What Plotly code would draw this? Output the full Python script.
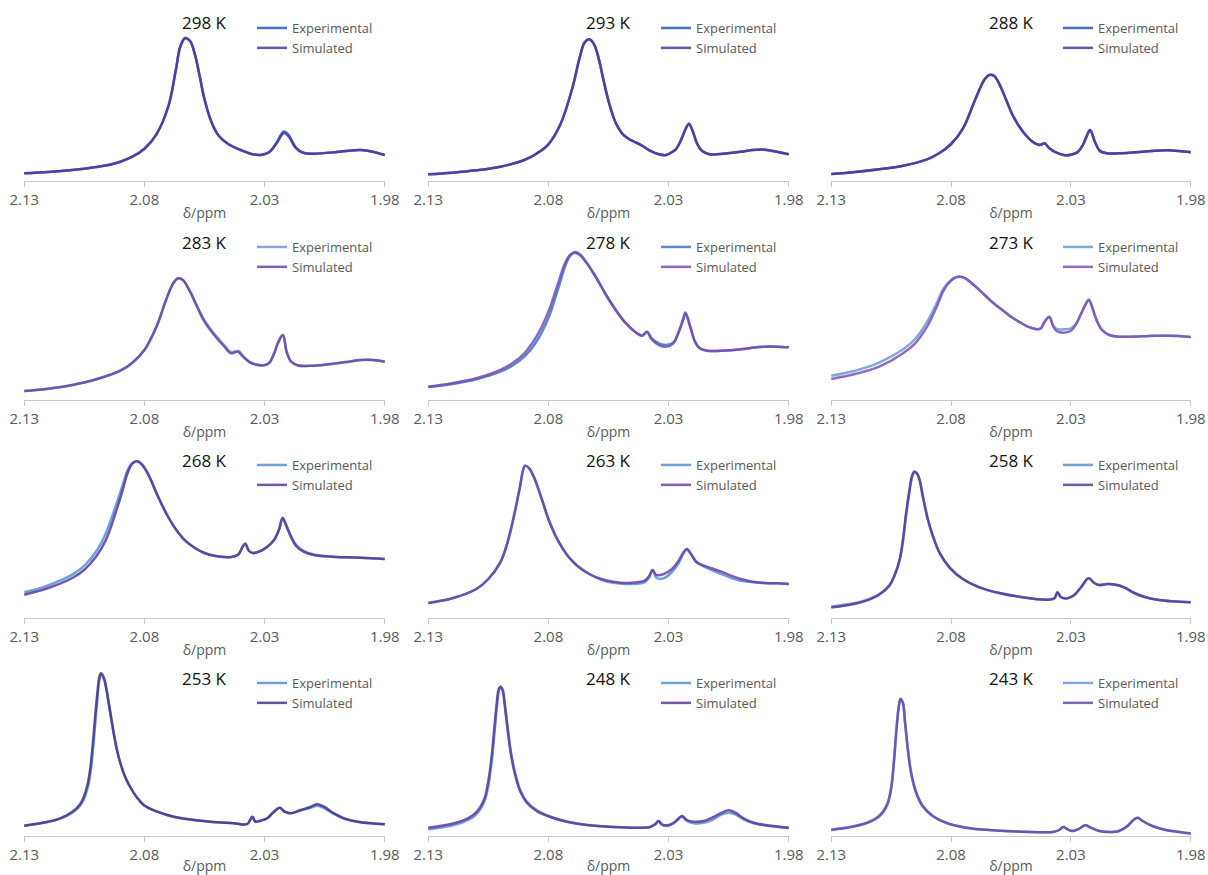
import plotly.graph_objects as go

# ---------------- data ----------------
temps = ["298 K", "293 K", "288 K", "283 K", "278 K", "273 K",
         "268 K", "263 K", "258 K", "253 K", "248 K", "243 K"]
tick_vals = [2.13, 2.08, 2.03, 1.98]
tick_text = ["2.13", "2.08", "2.03", "1.98"]

x_298 = [2.130, 2.120, 2.110, 2.100, 2.095, 2.090, 2.085, 2.080, 2.075, 2.070, 2.067, 2.065, 2.063, 2.061, 2.059,
         2.057, 2.055, 2.052, 2.049, 2.045, 2.040, 2.035, 2.031, 2.028, 2.025, 2.022, 2.020, 2.017, 2.014, 2.010,
         2.000, 1.995, 1.990, 1.985, 1.980]
exp_298 = [7.7, 9.0, 11.0, 14.0, 16.0, 19.3, 24.3, 32.3, 46.7, 75.0, 110.0, 135.0, 143.0, 140.0, 126.7,
           105.0, 81.7, 58.3, 45.0, 36.7, 31.0, 26.7, 26.3, 29.0, 38.5, 49.5, 46.0, 33.5, 28.3, 27.3,
           29.0, 30.3, 31.0, 29.3, 26.0]
sim_298 = [7.7, 9.0, 11.0, 14.0, 16.0, 19.3, 24.3, 32.3, 46.7, 75.0, 110.0, 135.0, 143.0, 140.0, 126.7,
           105.0, 81.7, 58.3, 45.0, 36.7, 31.0, 26.7, 26.3, 29.0, 37.7, 48.0, 44.5, 33.0, 28.3, 27.3,
           29.0, 30.3, 31.0, 29.3, 26.0]

x_293 = [2.130, 2.120, 2.110, 2.100, 2.090, 2.085, 2.080, 2.075, 2.070, 2.067, 2.065, 2.063, 2.061, 2.059, 2.057,
         2.055, 2.052, 2.049, 2.045, 2.042, 2.038, 2.034, 2.031, 2.029, 2.027, 2.025, 2.023, 2.0215, 2.020, 2.018,
         2.016, 2.013, 2.010, 2.000, 1.995, 1.990, 1.985, 1.980]
exp_293 = [6.7, 8.3, 10.7, 14.3, 21.0, 27.3, 36.7, 56.7, 93.3, 123.3, 138.3, 141.7, 136.7, 121.7, 100.0,
           80.0, 58.3, 46.7, 40.0, 36.7, 30.7, 26.7, 26.0, 28.3, 31.7, 40.0, 51.7, 57.3, 50.0, 36.7,
           30.0, 26.7, 26.7, 29.3, 31.0, 31.3, 29.3, 26.7]
sim_293 = [6.7, 8.3, 10.7, 14.3, 21.0, 27.3, 36.7, 56.7, 93.3, 123.3, 138.3, 141.7, 136.7, 121.7, 100.0,
           80.0, 58.3, 46.7, 40.0, 36.7, 30.7, 26.7, 26.0, 28.3, 31.7, 40.0, 51.7, 57.3, 50.0, 36.7,
           30.0, 26.7, 26.7, 29.3, 31.0, 31.3, 29.3, 26.7]

x_288 = [2.130, 2.120, 2.110, 2.100, 2.090, 2.085, 2.080, 2.075, 2.070, 2.066, 2.064, 2.062, 2.060, 2.057, 2.054,
         2.050, 2.046, 2.043, 2.041, 2.039, 2.036, 2.033, 2.030, 2.027, 2.025, 2.0235, 2.022, 2.020, 2.018, 2.015,
         2.010, 2.000, 1.995, 1.990, 1.985, 1.980]
exp_288 = [7.0, 9.0, 11.7, 15.3, 21.7, 27.7, 37.0, 52.7, 81.0, 101.7, 106.0, 105.0, 97.7, 81.0, 64.3,
           49.3, 39.3, 36.0, 37.7, 32.7, 28.3, 26.0, 26.3, 29.3, 36.0, 44.3, 51.0, 39.3, 30.3, 27.7,
           27.7, 29.3, 30.3, 30.7, 30.0, 28.7]
sim_288 = [7.0, 9.0, 11.7, 15.3, 21.7, 27.7, 37.0, 52.7, 81.0, 101.7, 106.0, 105.0, 97.7, 81.0, 64.3,
           49.3, 39.3, 36.0, 37.7, 32.7, 28.3, 26.0, 26.3, 29.3, 36.0, 44.3, 51.0, 39.3, 30.3, 27.7,
           27.7, 29.3, 30.3, 30.7, 30.0, 28.7]

x_283 = [2.130, 2.120, 2.110, 2.100, 2.090, 2.085, 2.080, 2.075, 2.071, 2.068, 2.066, 2.064, 2.061, 2.058, 2.055,
         2.051, 2.047, 2.044, 2.041, 2.039, 2.036, 2.033, 2.030, 2.028, 2.026, 2.0245, 2.0224, 2.0208, 2.019, 2.016,
         2.010, 2.000, 1.995, 1.990, 1.985, 1.980]
exp_283 = [9.0, 11.3, 15.0, 20.7, 29.3, 37.3, 50.0, 73.3, 100.0, 116.7, 121.7, 120.0, 108.3, 93.5, 79.5,
           66.5, 55.5, 48.0, 49.0, 44.0, 37.8, 35.5, 35.0, 37.3, 46.7, 56.7, 65.0, 48.0, 38.5, 34.5,
           34.3, 36.7, 38.3, 40.0, 40.0, 38.3]
sim_283 = [9.0, 11.3, 15.0, 20.7, 29.3, 37.3, 50.0, 73.3, 100.0, 116.7, 121.7, 120.0, 108.3, 92.7, 78.3,
           65.0, 54.0, 46.7, 48.3, 43.3, 37.3, 35.0, 34.7, 37.3, 46.7, 56.7, 65.0, 48.0, 38.5, 34.5,
           34.3, 36.7, 38.3, 40.0, 40.0, 38.3]

x_278 = [2.130, 2.120, 2.110, 2.100, 2.095, 2.090, 2.085, 2.080, 2.076, 2.073, 2.071, 2.069, 2.067, 2.064, 2.060,
         2.056, 2.052, 2.048, 2.044, 2.041, 2.039, 2.037, 2.034, 2.031, 2.028, 2.026, 2.024, 2.023, 2.021, 2.019,
         2.017, 2.014, 2.010, 2.000, 1.995, 1.990, 1.985, 1.980]
exp_278 = [13.0, 16.0, 20.7, 28.3, 34.3, 43.3, 58.3, 82.0, 111.0, 134.0, 144.0, 148.0, 146.0, 137.0, 122.0,
           105.0, 90.0, 77.3, 68.3, 64.5, 68.0, 61.5, 56.5, 55.0, 57.5, 66.7, 80.0, 87.5, 73.3, 58.3,
           51.7, 49.3, 49.0, 50.7, 52.3, 53.3, 53.3, 52.7]
sim_278 = [13.3, 16.7, 21.7, 30.0, 36.7, 46.7, 63.3, 88.3, 116.7, 137.3, 145.0, 147.3, 145.0, 136.7, 121.7,
           105.0, 90.0, 77.3, 68.3, 64.3, 68.3, 60.7, 55.0, 53.3, 56.7, 66.7, 80.0, 86.7, 73.3, 58.3,
           51.7, 49.3, 49.0, 50.7, 52.3, 53.3, 53.3, 52.7]

x_273 = [2.130, 2.120, 2.110, 2.100, 2.095, 2.090, 2.086, 2.083, 2.080, 2.078, 2.076, 2.074, 2.071, 2.067, 2.063,
         2.059, 2.055, 2.051, 2.048, 2.046, 2.044, 2.0425, 2.041, 2.039, 2.0375, 2.036, 2.033, 2.030, 2.028, 2.026,
         2.024, 2.0225, 2.021, 2.019, 2.017, 2.014, 2.010, 2.000, 1.995, 1.990, 1.985, 1.980]
exp_273 = [24.3, 29.3, 37.3, 50.7, 61.0, 78.0, 96.7, 111.7, 120.0, 123.0, 123.3, 121.7, 116.0, 107.3, 98.3,
           90.7, 83.3, 77.3, 73.3, 71.7, 70.7, 71.7, 78.3, 83.5, 75.0, 71.0, 70.7, 71.7, 76.0, 85.0,
           95.0, 100.5, 91.7, 78.3, 70.0, 65.0, 63.3, 63.7, 64.3, 64.3, 64.0, 63.0]
sim_273 = [21.0, 26.0, 33.3, 46.7, 56.7, 73.3, 93.3, 110.0, 119.3, 122.7, 123.3, 121.7, 116.0, 107.3, 98.3,
           90.7, 83.3, 77.3, 73.3, 71.7, 70.7, 71.7, 78.3, 82.7, 74.0, 69.0, 67.3, 69.3, 75.0, 85.0,
           95.0, 100.0, 91.7, 78.3, 70.0, 65.0, 63.3, 63.7, 64.3, 64.3, 64.0, 63.0]

x_268 = [2.130, 2.120, 2.110, 2.105, 2.100, 2.096, 2.092, 2.089, 2.087, 2.085, 2.083, 2.081, 2.078, 2.075, 2.071,
         2.067, 2.063, 2.059, 2.055, 2.051, 2.047, 2.044, 2.041, 2.039, 2.038, 2.0365, 2.035, 2.032, 2.029, 2.026,
         2.024, 2.0225, 2.021, 2.019, 2.017, 2.014, 2.010, 2.005, 2.000, 1.990, 1.980]
exp_268 = [25.7, 32.7, 43.3, 52.3, 66.7, 85.0, 111.7, 133.3, 147.7, 155.0, 156.7, 153.3, 141.7, 125.0, 105.0,
           89.0, 77.3, 70.0, 65.0, 62.3, 61.0, 61.0, 63.3, 71.7, 74.3, 67.0, 65.0, 66.7, 71.0, 78.3,
           88.3, 100.0, 93.0, 82.0, 73.5, 67.5, 63.8, 62.0, 61.0, 60.3, 59.0]
sim_268 = [23.3, 30.0, 40.0, 48.3, 61.7, 78.3, 105.0, 128.3, 145.0, 154.3, 156.7, 153.3, 141.7, 125.0, 105.0,
           89.0, 77.3, 70.0, 65.0, 62.3, 61.0, 61.0, 63.3, 71.7, 74.3, 67.0, 65.0, 66.7, 71.0, 78.3,
           88.3, 100.0, 92.3, 81.0, 72.3, 66.7, 63.3, 61.7, 61.0, 60.3, 59.0]

x_263 = [2.130, 2.120, 2.110, 2.105, 2.100, 2.097, 2.094, 2.092, 2.0897, 2.088, 2.086, 2.083, 2.080, 2.076, 2.072,
         2.068, 2.063, 2.058, 2.053, 2.048, 2.043, 2.040, 2.038, 2.0367, 2.035, 2.032, 2.0286, 2.0258, 2.0238, 2.0224,
         2.0207, 2.0185, 2.016, 2.012, 2.008, 2.004, 2.000, 1.995, 1.990, 1.985, 1.980]
exp_263 = [15.0, 19.7, 29.0, 39.0, 55.7, 75.7, 105.7, 129.0, 152.3, 149.7, 140.7, 120.7, 99.0, 77.3, 62.3,
           52.3, 44.0, 38.3, 35.3, 34.0, 34.3, 35.7, 40.7, 48.0, 40.0, 39.7, 46.0, 55.0, 64.5, 69.0,
           64.0, 56.0, 52.3, 48.0, 44.0, 40.0, 37.3, 35.7, 35.0, 34.7, 34.0]
sim_263 = [15.0, 19.7, 29.0, 39.0, 55.7, 75.7, 105.7, 129.0, 152.3, 149.7, 140.7, 120.7, 99.0, 77.3, 62.3,
           52.3, 44.0, 39.0, 36.3, 35.0, 35.7, 37.3, 42.3, 48.0, 43.0, 44.0, 49.0, 57.3, 65.7, 69.0,
           64.0, 56.3, 53.0, 49.7, 46.3, 42.3, 39.0, 36.3, 35.0, 34.7, 34.0]

x_258 = [2.130, 2.120, 2.115, 2.1099, 2.1057, 2.1036, 2.1015, 2.1001, 2.0988, 2.0974, 2.0963, 2.0953, 2.0942, 2.0932,
         2.0918, 2.0897, 2.0876, 2.0849, 2.0807, 2.0751, 2.0682, 2.0599, 2.0501, 2.0404, 2.0369, 2.0356, 2.0342,
         2.0314, 2.0286, 2.0258, 2.0226, 2.0203, 2.0182, 2.0147, 2.0113, 2.0078, 2.0036, 1.9988, 1.9932, 1.9876,
         1.980]
exp_258 = [11.3, 15.0, 18.3, 24.0, 33.0, 43.0, 58.0, 77.0, 102.3, 125.7, 140.7, 145.7, 144.0, 139.0,
           122.3, 99.0, 82.3, 65.7, 50.7, 39.0, 30.7, 25.0, 20.7, 18.3, 19.7, 25.7, 21.0,
           19.7, 23.0, 30.7, 39.7, 35.0, 33.0, 34.0, 33.3, 30.7, 25.0, 20.7, 18.0, 16.7,
           15.7]
sim_258 = [10.5, 14.3, 17.7, 23.5, 32.3, 42.3, 57.5, 77.5, 104.0, 127.5, 142.0, 146.5, 144.5, 138.5,
           121.5, 98.5, 82.0, 65.7, 50.7, 39.0, 30.7, 25.0, 20.7, 18.3, 19.7, 25.7, 21.0,
           19.7, 23.0, 30.7, 39.7, 35.0, 33.0, 34.0, 33.3, 30.7, 25.0, 20.7, 18.0, 16.7,
           15.7]

x_253 = [2.130, 2.120, 2.115, 2.110, 2.107, 2.1053, 2.1036, 2.1025, 2.1014, 2.1004, 2.0994, 2.0988, 2.0981, 2.0969,
         2.0958, 2.0949, 2.0937, 2.0928, 2.0914, 2.0900, 2.0879, 2.0858, 2.0831, 2.0803, 2.0747, 2.0678, 2.0567,
         2.0428, 2.0372, 2.0351, 2.0338, 2.0317, 2.0289, 2.0261, 2.0236, 2.0217, 2.0192, 2.015, 2.0108, 2.0081,
         2.0053, 2.0011, 1.9969, 1.9914, 1.9858, 1.980]
exp_253 = [10.3, 14.3, 17.3, 23.3, 29.5, 36.0, 48.0, 62.0, 86.0, 114.0, 141.0, 155.0, 161.0, 157.0,
           146.0, 133.0, 115.5, 102.5, 85.5, 72.5, 58.5, 48.5, 38.5, 31.0, 24.3, 19.3, 15.3,
           12.7, 12.0, 19.3, 14.3, 15.3, 17.7, 24.3, 28.3, 24.3, 22.7, 25.5, 28.3, 30.3,
           28.0, 22.0, 17.3, 14.3, 12.7, 11.7]
sim_253 = [10.3, 14.3, 17.7, 24.3, 31.0, 38.5, 52.0, 68.0, 94.0, 122.0, 147.0, 158.5, 162.7, 158.5,
           147.0, 134.0, 116.5, 103.5, 86.0, 73.0, 58.5, 48.5, 38.5, 31.0, 24.3, 19.3, 15.3,
           12.7, 12.0, 19.3, 14.3, 15.3, 17.7, 24.3, 28.3, 24.3, 22.7, 26.0, 29.3, 31.7,
           29.3, 22.7, 17.7, 14.3, 12.7, 11.7]

x_248 = [2.130, 2.121, 2.1154, 2.1113, 2.1085, 2.1064, 2.105, 2.1036, 2.1025, 2.1015, 2.1006, 2.0999, 2.099, 2.0981,
         2.0969, 2.0956, 2.0939, 2.0918, 2.089, 2.0849, 2.0793, 2.0724, 2.064, 2.0529, 2.0418, 2.0376, 2.0356,
         2.0342, 2.0328, 2.0307, 2.0279, 2.0258, 2.0244, 2.0224, 2.0196, 2.0154, 2.0113, 2.0078, 2.005, 2.0022,
         1.9988, 1.9946, 1.989, 1.980]
exp_248 = [6.7, 10.0, 14.0, 19.0, 26.0, 36.0, 50.0, 74.0, 101.0, 127.0, 145.0, 149.3, 146.5, 132.0,
           108.0, 84.0, 63.5, 46.5, 34.5, 26.0, 19.5, 14.5, 11.0, 9.0, 8.3, 9.0, 11.7,
           15.0, 11.2, 10.0, 12.5, 17.0, 19.5, 15.0, 12.7, 13.3, 16.7, 21.7, 23.3, 21.7,
           16.7, 12.7, 10.3, 8.0]
sim_248 = [8.3, 11.7, 15.7, 21.0, 28.3, 39.0, 55.0, 80.0, 108.0, 133.0, 147.5, 149.3, 145.0, 129.0,
           105.0, 81.7, 61.7, 45.0, 33.3, 25.0, 19.0, 14.3, 11.0, 9.0, 8.3, 9.0, 11.7,
           15.0, 11.7, 10.7, 13.3, 17.7, 20.0, 16.0, 14.3, 15.0, 19.0, 23.3, 25.7, 23.3,
           17.7, 13.3, 10.7, 8.3]

x_243 = [2.130, 2.121, 2.1154, 2.1113, 2.1085, 2.1064, 2.105, 2.1039, 2.1029, 2.1019, 2.1011, 2.1001, 2.0992, 2.0981,
         2.0967, 2.0946, 2.0918, 2.0876, 2.0821, 2.0738, 2.0626, 2.0501, 2.0376, 2.0349, 2.0332, 2.0314, 2.0293,
         2.0265, 2.024, 2.0217, 2.0182, 2.014, 2.0099, 2.0064, 2.0036, 2.0022, 2.0001, 1.996, 1.9904, 1.9849, 1.980]
exp_243 = [6.5, 9.8, 13.2, 18.0, 24.5, 34.0, 49.0, 74.0, 104.0, 128.0, 136.8, 132.5, 113.0, 87.0,
           63.0, 43.0, 29.3, 19.7, 13.0, 8.3, 5.7, 4.3, 4.0, 6.0, 9.0, 6.7, 5.0,
           7.3, 10.7, 8.3, 5.0, 4.0, 5.0, 10.0, 16.7, 18.3, 15.0, 10.0, 6.0, 4.0, 2.5]
sim_243 = [6.0, 9.3, 12.7, 17.3, 23.3, 32.5, 47.0, 72.0, 103.0, 128.0, 137.3, 133.3, 114.0, 88.5,
           64.0, 44.0, 30.0, 20.0, 13.3, 8.3, 5.7, 4.3, 4.0, 6.0, 9.0, 6.7, 5.0,
           7.3, 10.7, 8.3, 5.0, 4.0, 5.0, 10.0, 16.7, 18.3, 15.0, 10.0, 6.0, 4.0, 2.5]

panels = [
    (x_298, exp_298, sim_298), (x_293, exp_293, sim_293), (x_288, exp_288, sim_288),
    (x_283, exp_283, sim_283), (x_278, exp_278, sim_278), (x_273, exp_273, sim_273),
    (x_268, exp_268, sim_268), (x_263, exp_263, sim_263), (x_258, exp_258, sim_258),
    (x_253, exp_253, sim_253), (x_248, exp_248, sim_248), (x_243, exp_243, sim_243),
]

# ---------------- styling ----------------
exp_colors = ["#4472c4", "#4472c4", "#4472c4", "#7fa8dc", "#5b88d0", "#7fa8dc",
              "#6fa0dc", "#6fa0dc", "#6fa0dc", "#6fa0dc", "#6fa0dc", "#7fa8dc"]
sim_colors = ["#50389a", "#50389a", "#50389a", "#6e45aa", "#7a4cb2", "#7e52b5",
              "#58399a", "#6a42a8", "#58399a", "#4a338a", "#5e3a9c", "#6a48ac"]

W, H = 1208, 875
col_px = [(24, 385), (428, 789), (831, 1191)]
axis_px = [181, 400, 618, 836]
plot_h = 170
FONT = "Open Sans"

fig = go.Figure()
layout = {}
annotations = []

for i, (xs, ye, ys) in enumerate(panels):
    r, c = divmod(i, 3)
    sfx = "" if i == 0 else str(i + 1)
    lg = "legend" + sfx
    x0, x1 = col_px[c]
    ay = axis_px[r]
    fig.add_trace(go.Scatter(x=xs, y=ye, mode="lines", name="Experimental",
                             line=dict(color=exp_colors[i], width=2.5, shape="spline", smoothing=1.0),
                             xaxis="x" + sfx, yaxis="y" + sfx, legend=lg))
    fig.add_trace(go.Scatter(x=xs, y=ys, mode="lines", name="Simulated", opacity=0.85,
                             line=dict(color=sim_colors[i], width=2.5, shape="spline", smoothing=1.0),
                             xaxis="x" + sfx, yaxis="y" + sfx, legend=lg))
    layout["xaxis" + sfx] = dict(
        domain=[x0 / W, x1 / W], anchor="y" + sfx, automargin=False,
        range=[2.1301, 1.9799], tickmode="array", tickvals=tick_vals, ticktext=tick_text,
        showline=True, linecolor="#c8c8c8", linewidth=1,
        ticks="outside", ticklen=5, tickcolor="#c8c8c8", showgrid=False, zeroline=False,
        tickfont=dict(family=FONT, size=15, color="#595959"),
        title=dict(text="δ/ppm", standoff=0, font=dict(family=FONT, size=14, color="#595959")),
        fixedrange=True,
    )
    layout["yaxis" + sfx] = dict(
        domain=[1 - ay / H, 1 - (ay - plot_h) / H], anchor="x" + sfx, automargin=False,
        range=[0, plot_h], visible=False, showgrid=False, zeroline=False, fixedrange=True,
    )
    layout[lg] = dict(
        x=(x1 - 133) / W, y=1 - (ay - 168) / H, xanchor="left", yanchor="top",
        bgcolor="rgba(0,0,0,0)", borderwidth=0, itemwidth=30,
        font=dict(family=FONT, size=13, color="#595959"),
    )
    annotations.append(dict(
        text=temps[i], xref="paper", yref="paper",
        x=(x0 + x1) / 2 / W, y=1 - (ay - 158) / H, xanchor="center", yanchor="middle",
        showarrow=False, font=dict(family=FONT, size=17, color="#111111"),
    ))

fig.update_layout(
    width=W, height=H, margin=dict(l=0, r=0, t=0, b=0, autoexpand=False),
    paper_bgcolor="white", plot_bgcolor="white",
    showlegend=True, annotations=annotations, **layout,
)

fig.write_html("out.html")
